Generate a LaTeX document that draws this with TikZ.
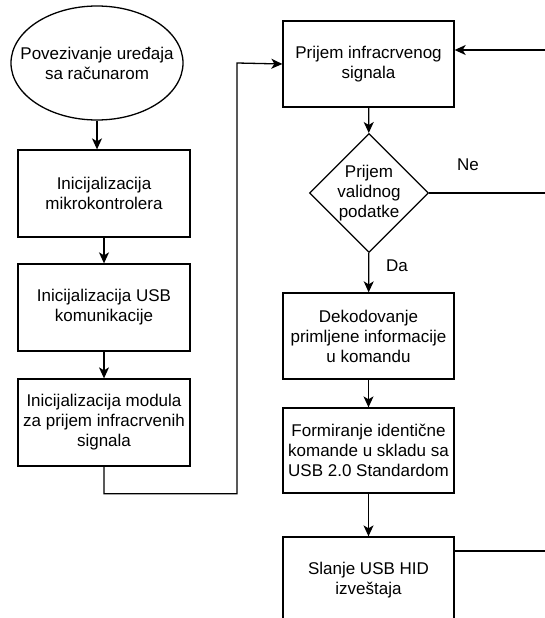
\documentclass[tikz,border=0pt]{standalone}
\usepackage{fontspec}
\setmainfont{Liberation Sans}
\usetikzlibrary{shapes.geometric,arrows.meta}
\begin{document}
\begin{tikzpicture}[x=1pt,y=-1pt,
  every node/.style={font=\fontsize{17}{20}\selectfont, align=center, line width=1.3pt, inner sep=2pt},
  box/.style={draw, rectangle, minimum width=172pt, minimum height=87pt},
  startend/.style={draw, ellipse, minimum width=172pt, minimum height=114pt, inner xsep=-22pt, inner ysep=0pt},
  decision/.style={draw, diamond, minimum width=115pt, minimum height=113pt, inner sep=0pt},
  arr/.style={line width=1.3pt, -{Stealth[length=11pt,width=10pt,inset=3pt]}},
  ln/.style={line width=1.3pt}]
\useasboundingbox (0,0) rectangle (545,618);
\node[startend] (ell) at (97,63) {Povezivanje uređaja\\sa računarom};
\node[box] (b1) at (104,193.5) {Inicijalizacija\\mikrokontrolera};
\node[box] (b2) at (104,307.5) {Inicijalizacija USB\\komunikacije};
\node[box] (b3) at (104,422.5) {Inicijalizacija modula\\za prijem infracrvenih\\signala};
\node[box, minimum width=171pt, minimum height=86pt] (r1) at (368.5,64) {Prijem infracrvenog\\signala};
\node[decision] (dia) at (369,193) {Prijem\\validnog\\podatke};
\node[box, minimum width=171pt, minimum height=86pt] (r2) at (368.5,336) {Dekodovanje\\primljene informacije\\u komandu};
\node[box, minimum width=171pt, minimum height=85pt] (r3) at (368.5,450.5) {Formiranje identične\\komande u skladu sa\\USB 2.0 Standardom};
\node[box, minimum width=171pt, minimum height=86pt] (r4) at (368.5,580) {Slanje USB HID\\izveštaja};
\node (ne) at (468,165) {Ne};
\node (da) at (397,266) {Da};
\coordinate (neEnd) at (545,193);
\coordinate (inStart) at (545,50);
\coordinate (outEnd) at (545,551);
\draw[arr] (ell.south) -- (ell.south |- b1.north);
\draw[arr] (b1) -- (b2);
\draw[arr] (b2) -- (b3);
\draw[arr] (b3.south) -- ++(0,27) -| (237,63) -- (r1.west);
\draw[arr] (r1) -- (dia);
\draw[ln] (dia.east) -- (neEnd);
\draw[arr] (dia) -- (r2);
\draw[arr] (r2) -- (r3);
\draw[arr] (r3) -- (r4);
\draw[arr] (inStart) -- (inStart -| r1.east);
\draw[ln] (outEnd -| r4.east) -- (outEnd);
\end{tikzpicture}
\end{document}
